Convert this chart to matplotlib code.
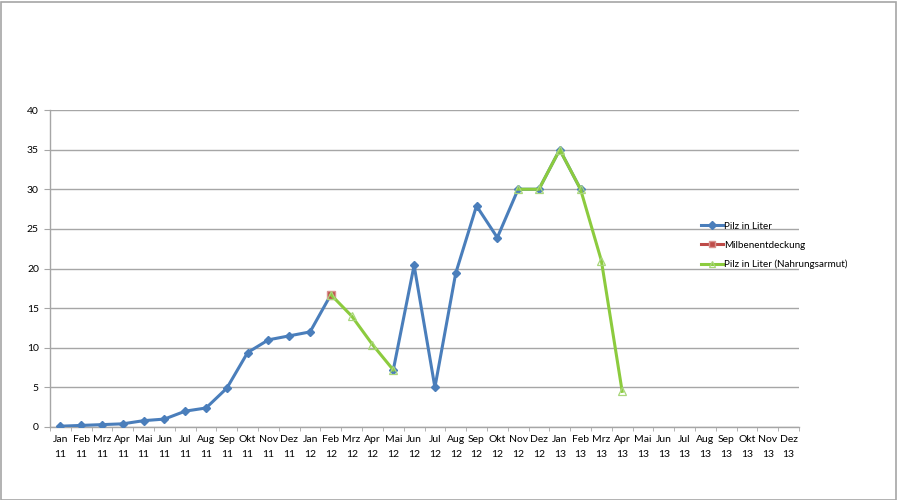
import matplotlib.pyplot as plt
import numpy as np
from matplotlib.patches import Rectangle

nan = np.nan

months = ['Jan', 'Feb', 'Mrz', 'Apr', 'Mai', 'Jun',
          'Jul', 'Aug', 'Sep', 'Okt', 'Nov', 'Dez']
years = ['11', '12', '13']
labels = ['%s\n%s' % (m, y) for y in years for m in months]

# Pilz in Liter
pilz = [0.1, 0.2, 0.3, 0.4, 0.8, 1.0, 2.0, 2.4, 4.9, 9.4, 11.0, 11.5,
        12.0, 16.7, nan, nan, 7.2, 20.4, 5.0, 19.4, 27.9, 23.9, 30.0, 30.0,
        35.0, 30.0, nan, nan, nan, nan, nan, nan, nan, nan, nan, nan]
# Milbenentdeckung
milben = [nan] * 13 + [16.7] + [nan] * 22
# Pilz in Liter (Nahrungsarmut)
armut = [nan] * 13 + [16.7, 14.0, 10.4, 7.2] + [nan] * 5 + \
        [30.0, 30.0, 35.0, 30.0, 21.0, 4.5] + [nan] * 8

blue = '#4A7EBB'
red = '#BE4B48'
green = '#8CCB3E'
grid = '#A6A6A6'

plt.rcParams['font.family'] = ['Lato', 'DejaVu Sans']

fig = plt.figure(figsize=(8.97, 5.0), dpi=100)
ax = fig.add_axes([50 / 897, 1 - 427 / 500, 749 / 897, 317 / 500])
x = np.arange(len(labels))

ax.plot(x, pilz, color=blue, lw=2.2, marker='D', ms=4.5,
        mfc=blue, mec=blue, label='Pilz in Liter', zorder=3)
ax.plot(x, milben, color=red, lw=2.2, marker='s', ms=6,
        mfc=red, mec='#D9928F', label='Milbenentdeckung', zorder=4)
ax.plot(x, armut, color=green, lw=2.2, marker='^', ms=6,
        mfc='none', mec='#A8D67A', mew=0.9,
        label='Pilz in Liter (Nahrungsarmut)', zorder=5)

ax.set_xlim(-0.5, len(labels) - 0.5)
ax.set_ylim(0, 40)
ax.set_yticks(np.arange(0, 41, 5))
ax.set_xticks(x)
ax.set_xticklabels(labels, fontsize=7.5, linespacing=1.75)
ax.set_xticks(np.arange(-0.5, len(labels), 1), minor=True)
ax.tick_params(axis='x', which='major', length=0, pad=6)
ax.tick_params(axis='x', which='minor', length=3, color=grid, direction='out')
ax.tick_params(axis='y', length=4, color=grid, labelsize=7.5, pad=4)
ax.yaxis.grid(True, color=grid, lw=1)
ax.set_axisbelow(True)
for side in ['top', 'right']:
    ax.spines[side].set_visible(False)
for side in ['left', 'bottom']:
    ax.spines[side].set_color(grid)
    ax.spines[side].set_linewidth(1)

leg = fig.legend(loc='upper left', bbox_to_anchor=(697 / 897, 1 - 218 / 500),
                 frameon=False, fontsize=7.1, handlelength=2.2,
                 handletextpad=0.15, labelspacing=1.0, borderaxespad=0,
                 markerscale=0.8)

fig.patches.append(Rectangle((0.5 / 897, 0.5 / 500), 895 / 897, 498 / 500,
                             transform=fig.transFigure, fill=False,
                             edgecolor='#A6A6A6', lw=1.2))

fig.savefig('out.png', dpi=100)
